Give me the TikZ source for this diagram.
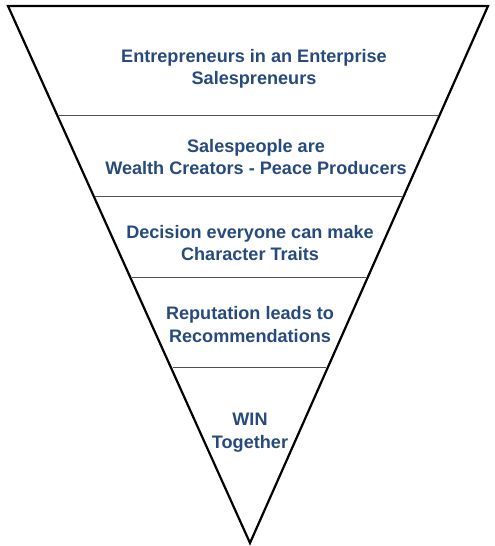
\documentclass[tikz,border=0pt]{standalone}
\usepackage{fontspec}
\setmainfont{Liberation Sans}
\usetikzlibrary{calc}
\definecolor{txtblue}{RGB}{38,74,124}
\definecolor{sepgray}{RGB}{80,80,80}
\begin{document}
\begin{tikzpicture}[x=1pt,y=1pt,
  label text/.style={text=txtblue,font=\bfseries\fontsize{18.1}{22.5}\selectfont,align=center,inner sep=0pt},
  outline/.style={draw=black,line width=2.2pt,line join=miter},
  sep line/.style={draw=sepgray,line width=1pt}]
\useasboundingbox (0,0) rectangle (495,546);
\coordinate (tl) at (8,540);
\coordinate (tr) at (488,540);
\coordinate (ap) at (250,3);
\draw[outline] (tl) -- (tr) -- (ap) -- cycle;
\foreach \t/\n in {0.203/a,0.3548/b,0.5056/c,0.6741/d}{
  \coordinate (l\n) at ($(tl)!\t!(ap)$);
  \coordinate (r\n) at ($(tr)!\t!(ap)$);
  \draw[sep line] ($(l\n)+(1.5,0)$) -- ($(r\n)+(-1.5,0)$);
}
\node[label text] (t1) at (254,477) {Entrepreneurs in an Enterprise\\Salespreneurs};
\node[label text] (t2) at (256,389) {Salespeople are\\Wealth Creators - Peace Producers};
\node[label text] (t3) at (250,303) {Decision everyone can make\\Character Traits};
\node[label text] (t4) at (250,221.5) {Reputation leads to\\Recommendations};
\node[label text] (t5) at (250,113.5) {WIN\\Together};
\end{tikzpicture}
\end{document}
